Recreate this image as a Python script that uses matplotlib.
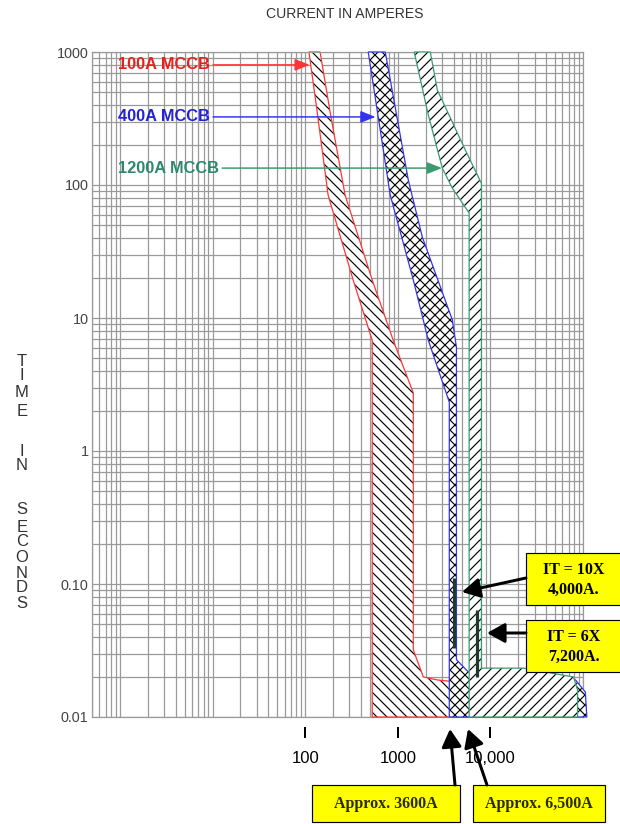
import matplotlib
matplotlib.use("Agg")  # no display in the sandbox
import matplotlib.pyplot as plt
from matplotlib.patches import Rectangle, FancyArrowPatch
from matplotlib.ticker import FixedLocator, LogLocator, NullFormatter
import numpy as np

W, H, DPI = 620, 824, 120

# --- data: trip bands, traced round the outline (amperes, seconds) ---
red_amps = [110, 135, 177, 330, 530, 530, 5600, 5600, 2675, 1888, 1472, 1472, 893, 530, 270, 186, 145]
red_secs = [1000, 354, 84, 19.3, 6.8, 0.01, 0.01, 0.018, 0.019, 0.020, 0.032, 2.73, 6.8, 19.3, 84, 354, 1000]

blue_amps = [480, 830, 1472, 2138, 3600, 3600, 110000, 106000, 83000, 5780, 4300, 4300, 3880, 1841, 1300, 733]
blue_secs = [1000, 84, 19.3, 6.8, 2.33, 0.01, 0.01, 0.0154, 0.019, 0.0218, 0.027, 6.05, 9.7, 40.6, 109, 1000]

green_amps = [1507, 2138, 3027, 3880, 5900, 5900, 87300, 87300, 78900, 22800, 8000, 8000, 5370, 2675, 2245]
green_secs = [1000, 336, 134, 94.8, 61.5, 0.01, 0.01, 0.016, 0.02, 0.0233, 0.0233, 103, 183, 518, 1000]

# instantaneous trip markers
it_amps = [4000, 7200]
it_secs_hi = [0.111, 0.064]
it_secs_lo = [0.033, 0.02]

x_ticks = [100, 1000, 10000]
x_labels = ["100", "1000", "10,000"]
y_ticks = [0.01, 0.1, 1, 10, 100, 1000]
y_labels = ["0.01", "0.10", "1", "10", "100", "1000"]

RED, BLUE, GREEN = "#ff3434", "#3434f0", "#3a9a70"
RED_T, BLUE_T, GREEN_T = "#e8201a", "#2323d6", "#2a8a6a"
GRID = "#9a9a9a"

plt.rcParams["font.family"] = ["Liberation Sans", "DejaVu Sans"]
plt.rcParams["hatch.linewidth"] = 0.7


def fpx(x, y):
    # pixel position (from top-left) to figure fraction
    return x / W, 1 - y / H


fig = plt.figure(figsize=(W / DPI, H / DPI), dpi=DPI)
ax = fig.add_axes([92 / W, 1 - 717 / H, (583 - 92) / W, 665 / H])
ax.set_xscale("log")
ax.set_yscale("log")
ax.set_xlim(0.5, 1e5)
ax.set_ylim(0.01, 1000)

# log-paper grid
ax.xaxis.set_major_locator(FixedLocator(x_ticks))
ax.xaxis.set_minor_locator(LogLocator(base=10, subs=np.arange(1, 10), numticks=20))
ax.xaxis.set_minor_formatter(NullFormatter())
ax.yaxis.set_major_locator(FixedLocator(y_ticks))
ax.yaxis.set_minor_locator(LogLocator(base=10, subs=np.arange(1, 10), numticks=20))
ax.yaxis.set_minor_formatter(NullFormatter())
ax.grid(which="both", color=GRID, lw=0.75)
ax.set_axisbelow(True)
ax.axhline(0.01, color=GRID, lw=0.75, clip_on=False, zorder=0.5)

ax.set_xticklabels(x_labels, family="Liberation Serif", fontweight="bold", fontsize=9)
ax.set_yticklabels(y_labels, fontsize=8.6, color="#444444")
ax.tick_params(axis="y", which="both", length=0, pad=2)
ax.tick_params(axis="x", which="minor", length=0)
ax.tick_params(axis="x", which="major", length=6.6, width=1.2, pad=8)
ax.spines["bottom"].set_position(("outward", 6))
ax.spines["bottom"].set_visible(False)
for s in ["left", "top", "right"]:
    ax.spines[s].set_color(GRID)
    ax.spines[s].set_linewidth(0.75)

# bands: white fill + black hatch, then coloured outline
bands = [(red_amps, red_secs, RED, "\\\\\\\\"),
         (blue_amps, blue_secs, BLUE, "xxxx"),
         (green_amps, green_secs, GREEN, "////")]
for i, (amps, secs, col, hatch) in enumerate(bands):
    ax.fill(amps, secs, facecolor="white", edgecolor="black", hatch=hatch,
            lw=0, zorder=2 + i, clip_on=False)
    ax.fill(amps, secs, facecolor="none", edgecolor=col, lw=0.75,
            zorder=2.5 + i, clip_on=False)

ax.vlines(it_amps, it_secs_lo, it_secs_hi, color="#1d3a2a", lw=1.9, zorder=6)

# band labels with arrows
for txt, tip, y, col_t, col in [("100A MCCB", 112, 800, RED_T, RED),
                                ("400A MCCB", 575, 325, BLUE_T, BLUE),
                                ("1200A MCCB", 3000, 134, GREEN_T, GREEN)]:
    ax.annotate(txt, xy=(tip, y), xytext=(0.95, y), color=col_t, fontsize=9.8,
                fontweight="bold", ha="left", va="center", zorder=7,
                arrowprops=dict(arrowstyle="-|>,head_length=0.75,head_width=0.3",
                                color=col, lw=0.9, mutation_scale=10,
                                shrinkA=0, shrinkB=0))

# titles
fig.text(*fpx(345, 14), "CURRENT IN AMPERES", ha="center", va="center",
         fontsize=8.4, color="#333333")
letters = "TIMEINSECONDS"
letter_y = [361, 376, 393, 411, 451, 465, 510, 527, 542, 558, 573, 588, 603]
for ch, yy in zip(letters, letter_y):
    fig.text(*fpx(22, yy), ch, ha="center", va="center", fontsize=10, color="#333333")

# yellow call-out boxes
boxes = [((526, 553, 621, 605), "IT = 10X\n4,000A."),
         ((526, 620, 621, 672), "IT = 6X\n7,200A."),
         ((312, 785, 460, 822), "Approx. 3600A"),
         ((473, 785, 605, 822), "Approx. 6,500A")]
for (x0, y0, x1, y1), txt in boxes:
    fig.add_artist(Rectangle(fpx(x0, y1), (x1 - x0) / W, (y1 - y0) / H,
                             transform=fig.transFigure, facecolor="#ffff00",
                             edgecolor="black", lw=0.7, zorder=8))
    fig.text(*fpx((x0 + x1) / 2, (y0 + y1) / 2 + 1), txt, ha="center", va="center",
             family="Liberation Serif", fontweight="bold", fontsize=9.6,
             linespacing=1.35, color="#2b2b00" if "Approx" in txt else "black",
             zorder=9)

for tail, head in [((526, 578), (462, 592)), ((526, 633), (487, 633)),
                   ((455, 785), (450, 729)), ((487, 785), (468, 729))]:
    fig.add_artist(FancyArrowPatch(fpx(*tail), fpx(*head), transform=fig.transFigure,
                                   arrowstyle="-|>,head_length=0.9,head_width=0.5",
                                   mutation_scale=10, lw=1.8, color="black",
                                   shrinkA=0, shrinkB=0, zorder=9))

fig.savefig("out.png", dpi=DPI)
